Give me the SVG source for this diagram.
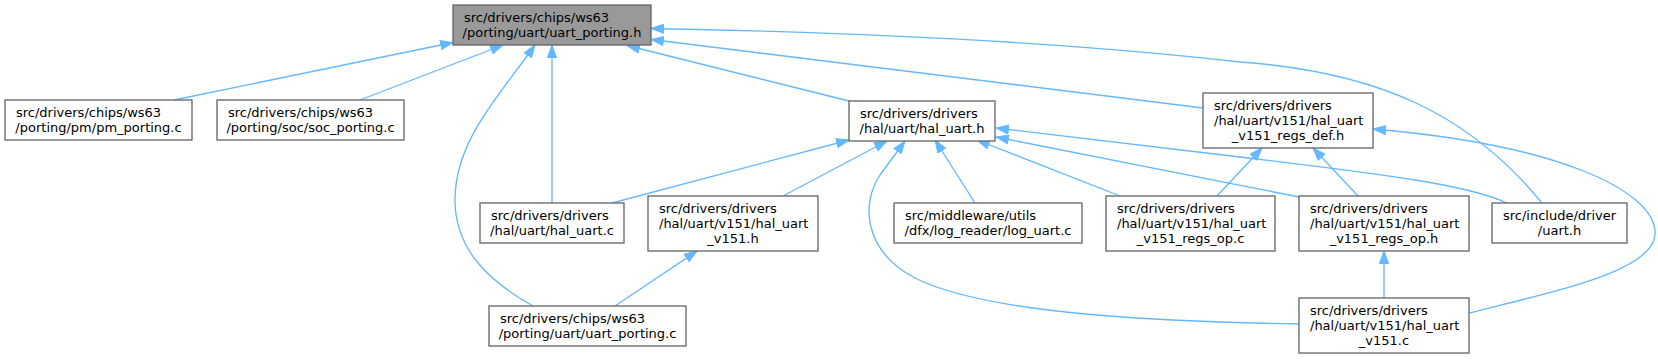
<svg xmlns="http://www.w3.org/2000/svg" width="1658" height="359" viewBox="0 0 1658 359">
<style>
.n rect{fill:#ffffff;stroke:#666666;stroke-width:1.33}
.n.root rect{fill:#999999}
.n text{font-family:"DejaVu Sans",sans-serif;font-size:13px;fill:#000000}
.n text.c{text-anchor:middle}
.e path{fill:none;stroke:#63b8ff;stroke-width:1.33;marker-end:url(#ah)}
</style>
<defs>
<marker id="ah" viewBox="0 0 13 10" refX="13" refY="5" markerWidth="13" markerHeight="10" orient="auto" markerUnits="userSpaceOnUse">
<path d="M0.5,0.5 L13,5 L0.5,9.5 Z" fill="#63b8ff" stroke="#63b8ff" stroke-width="1"/>
</marker>
</defs>
<rect width="1658" height="359" fill="#ffffff"/>
<g id="edges" class="e">
<path d="M174,100 L453,42.5"/>
<path d="M360,100 L503,45"/>
<path d="M533,306 C490,282 455,250 455,200 C455,140 500,95 535,45"/>
<path d="M552,203 L552,45"/>
<path d="M849,101 L627,45.5"/>
<path d="M1203,108 L651,39.5"/>
<path d="M1542,203 C1470,115 1380,72 1240,62 C1100,46 900,33 651,28.5"/>
<path d="M612,203 L849,140"/>
<path d="M783,196 L887,141"/>
<path d="M1299,324 C1180,322 990,316 915,278 C865,252 860,205 880,175 L905,141"/>
<path d="M975,203 L935,140"/>
<path d="M1120,196 L977,140"/>
<path d="M1299,197 L996,137"/>
<path d="M1507,203 C1470,186 1400,176 1240,157 C1150,146 1070,137 996,128"/>
<path d="M1217,196 L1262,148"/>
<path d="M1358,196 L1313,148"/>
<path d="M1469,313 C1560,290 1660,270 1655,230 C1650,190 1560,145 1373,129"/>
<path d="M615,306 L697,251"/>
<path d="M1384,298 L1384,251"/>
</g>
<g id="node_root" class="n root">
<rect x="453" y="5" width="198" height="40"/>
<text x="464" y="22">src/drivers/chips/ws63</text>
<text class="c" x="552" y="37">/porting/uart/uart_porting.h</text>
</g>
<g id="node_pm_porting_c" class="n">
<rect x="5" y="100" width="187" height="40"/>
<text x="16" y="117">src/drivers/chips/ws63</text>
<text class="c" x="98.5" y="132">/porting/pm/pm_porting.c</text>
</g>
<g id="node_soc_porting_c" class="n">
<rect x="217" y="100" width="187" height="40"/>
<text x="228" y="117">src/drivers/chips/ws63</text>
<text class="c" x="310.5" y="132">/porting/soc/soc_porting.c</text>
</g>
<g id="node_hal_uart_h" class="n">
<rect x="849" y="101" width="146" height="40"/>
<text x="860" y="118">src/drivers/drivers</text>
<text class="c" x="922" y="133">/hal/uart/hal_uart.h</text>
</g>
<g id="node_regs_def_h" class="n">
<rect x="1203" y="93" width="170" height="55"/>
<text x="1214" y="110">src/drivers/drivers</text>
<text x="1214" y="125">/hal/uart/v151/hal_uart</text>
<text class="c" x="1288" y="140">_v151_regs_def.h</text>
</g>
<g id="node_hal_uart_c" class="n">
<rect x="480" y="203" width="144" height="40"/>
<text x="491" y="220">src/drivers/drivers</text>
<text class="c" x="552" y="235">/hal/uart/hal_uart.c</text>
</g>
<g id="node_hal_uart_v151_h" class="n">
<rect x="648" y="196" width="170" height="55"/>
<text x="659" y="213">src/drivers/drivers</text>
<text x="659" y="228">/hal/uart/v151/hal_uart</text>
<text class="c" x="733" y="243">_v151.h</text>
</g>
<g id="node_log_uart_c" class="n">
<rect x="894" y="203" width="188" height="40"/>
<text x="905" y="220">src/middleware/utils</text>
<text class="c" x="988" y="235">/dfx/log_reader/log_uart.c</text>
</g>
<g id="node_regs_op_c" class="n">
<rect x="1106" y="196" width="169" height="55"/>
<text x="1117" y="213">src/drivers/drivers</text>
<text x="1117" y="228">/hal/uart/v151/hal_uart</text>
<text class="c" x="1190.5" y="243">_v151_regs_op.c</text>
</g>
<g id="node_regs_op_h" class="n">
<rect x="1299" y="196" width="170" height="55"/>
<text x="1310" y="213">src/drivers/drivers</text>
<text x="1310" y="228">/hal/uart/v151/hal_uart</text>
<text class="c" x="1384" y="243">_v151_regs_op.h</text>
</g>
<g id="node_uart_h" class="n">
<rect x="1492" y="203" width="135" height="40"/>
<text x="1503" y="220">src/include/driver</text>
<text class="c" x="1559.5" y="235">/uart.h</text>
</g>
<g id="node_uart_porting_c" class="n">
<rect x="489" y="306" width="197" height="40"/>
<text x="500" y="323">src/drivers/chips/ws63</text>
<text class="c" x="587.5" y="338">/porting/uart/uart_porting.c</text>
</g>
<g id="node_hal_uart_v151_c" class="n">
<rect x="1299" y="298" width="170" height="55"/>
<text x="1310" y="315">src/drivers/drivers</text>
<text x="1310" y="330">/hal/uart/v151/hal_uart</text>
<text class="c" x="1384" y="345">_v151.c</text>
</g>
</svg>
